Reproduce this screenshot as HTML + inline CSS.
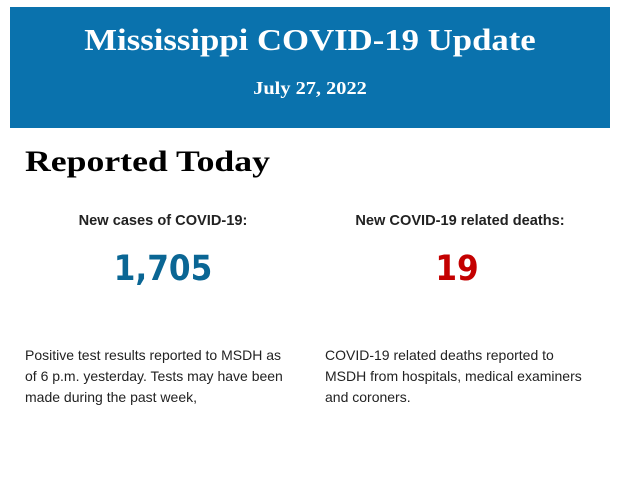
<!DOCTYPE html>
<html><head><style>
body{margin:0;width:620px;height:483px;background:#fff;position:relative;overflow:hidden}
.hdr{position:absolute;left:10px;top:7px;width:600px;height:121px;background:#0a72ad}
.t{position:absolute;left:0;width:100%;text-align:center;color:#fff;font-family:"Liberation Serif",serif;font-weight:bold}
.a{position:absolute;font-family:"Liberation Sans",sans-serif}
</style></head><body>
<div class="hdr">
<div class="t" style="top:15px;font-size:31px;transform:scaleX(1.12)">Mississippi COVID-19 Update</div>
<div class="t" style="top:71px;font-size:18px;transform:scaleX(1.13)">July 27, 2022</div>
</div>
<div class="a" style="left:25px;top:145px;font-family:'Liberation Serif',serif;font-weight:bold;font-size:30px;color:#000;transform:scaleX(1.19);transform-origin:left">Reported Today</div>
<div class="a" style="left:13px;width:300px;top:213px;text-align:center;font-weight:bold;font-size:14.6px;color:#222">New cases of COVID-19:</div>
<div class="a" style="left:310px;width:300px;top:213px;text-align:center;font-weight:bold;font-size:14.6px;color:#222">New COVID-19 related deaths:</div>
<div class="a" style="left:13px;width:300px;top:249px;text-align:center;font-weight:bold;font-size:35px;color:#0a6694;font-family:'DejaVu Sans',sans-serif;transform:scaleX(0.89)">1,705</div>
<div class="a" style="left:307px;width:300px;top:249px;text-align:center;font-weight:bold;font-size:35px;color:#c40000;font-family:'DejaVu Sans',sans-serif;transform:scaleX(0.89)">19</div>
<div class="a" style="left:25px;top:345px;width:269px;font-size:14px;line-height:21px;color:#222">Positive test results reported to MSDH as of 6 p.m. yesterday. Tests may have been made during the past week,</div>
<div class="a" style="left:325px;top:345px;width:272px;font-size:14px;line-height:21px;color:#222">COVID-19 related deaths reported to MSDH from hospitals, medical examiners and coroners.</div>
</body></html>
